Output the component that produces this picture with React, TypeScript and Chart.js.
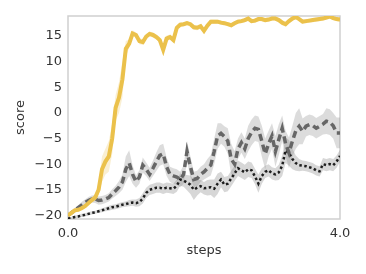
import React, { useEffect, useRef } from "react";
import { Chart, registerables } from "chart.js";

Chart.register(...registerables);

const steps = [
  0, 0.05, 0.1, 0.15, 0.2, 0.25, 0.3, 0.35, 0.4, 0.45,
  0.5, 0.55, 0.6, 0.65, 0.7, 0.75, 0.8, 0.85, 0.9, 0.95,
  1.0, 1.05, 1.1, 1.15, 1.2, 1.25, 1.3, 1.35, 1.4, 1.45,
  1.5, 1.55, 1.6, 1.65, 1.7, 1.75, 1.8, 1.85, 1.9, 1.95,
  2.0, 2.05, 2.1, 2.15, 2.2, 2.25, 2.3, 2.35, 2.4, 2.45,
  2.5, 2.55, 2.6, 2.65, 2.7, 2.75, 2.8, 2.85, 2.9, 2.95,
  3.0, 3.05, 3.1, 3.15, 3.2, 3.25, 3.3, 3.35, 3.4, 3.45,
  3.5, 3.55, 3.6, 3.65, 3.7, 3.75, 3.8, 3.85, 3.9, 3.95, 4.0,
];

const yellowMean = [
  -20, -19.5, -19.0, -18.9, -18.6, -18.2, -17.6, -17.0, -16.5, -15.0,
  -11.0, -9.5, -8.5, -5.0, 1.0, 3.0, 6.5, 12.5, 13.5, 15.5,
  15.2, 14.0, 13.8, 14.9, 15.4, 15.2, 14.8, 14.2, 12.3, 14.5,
  14.8, 14.2, 16.6, 17.2, 17.3, 17.5, 17.3, 16.7, 16.6, 16.9,
  16.0, 17.0, 17.8, 17.8, 17.8, 17.6, 17.5, 17.3, 17.1, 17.5,
  17.8, 17.9, 18.1, 18.4, 17.9, 18.0, 18.3, 18.3, 18.1, 18.2,
  18.4, 18.4, 18.1, 17.6, 17.3, 17.9, 18.4, 18.7, 18.3, 17.8,
  17.9, 18.0, 18.1, 18.2, 18.3, 18.4, 18.6, 18.8, 18.5, 18.3, 18.2,
];
const yellowSpread = [
  0.3, 0.3, 0.3, 0.3, 0.3, 0.4, 0.4, 0.5, 0.6, 1.0,
  2.5, 2.5, 3.0, 3.0, 2.5, 3.0, 3.5, 1.5, 0.8, 0.6,
  0.5, 0.6, 0.5, 0.5, 0.5, 0.5, 0.5, 0.6, 0.8, 0.6,
  0.5, 0.5, 0.5, 0.4, 0.4, 0.4, 0.4, 0.5, 0.5, 0.5,
  0.6, 0.5, 0.4, 0.4, 0.4, 0.4, 0.4, 0.4, 0.4, 0.4,
  0.4, 0.4, 0.4, 0.4, 0.4, 0.4, 0.4, 0.4, 0.4, 0.4,
  0.4, 0.4, 0.4, 0.5, 0.5, 0.4, 0.4, 0.4, 0.4, 0.4,
  0.4, 0.4, 0.4, 0.4, 0.4, 0.4, 0.4, 0.4, 0.4, 0.4, 0.4,
];

const dashedMean = [
  -20, -19.5, -19, -18.5, -18, -17.5, -17.1, -16.8, -16.8, -17.1,
  -17.0, -16.8, -16.5, -15.8, -15.2, -14.5, -13.5, -11.0, -9.8, -12.0,
  -13.4, -12.5, -10.2, -11.0, -12.0, -10.8, -9.5, -8.3, -8.0, -10.5,
  -12.0, -12.3, -12.5, -13.0, -12.0, -7.5, -10.5, -13.0, -12.8, -12.0,
  -11.5, -10.8, -10.2, -7.5, -4.5, -4.0, -4.6, -5.5, -9.0, -10.0,
  -7.0, -5.8, -7.0, -5.0, -3.8, -3.0, -3.2, -5.5, -8.0, -6.0,
  -4.5, -7.5, -5.2, -3.0, -6.0, -7.8, -5.5, -3.5, -2.6, -3.6,
  -2.6, -2.3, -2.5, -3.0, -2.6, -2.2, -1.6, -1.8, -2.5, -3.9, -3.9,
];
const dashedSpread = [
  0.3, 0.4, 0.5, 0.5, 0.6, 0.6, 0.7, 0.7, 0.8, 0.8,
  0.8, 0.8, 0.8, 0.9, 1.0, 1.2, 1.5, 2.5, 2.5, 1.8,
  1.2, 1.3, 1.5, 1.3, 1.3, 1.5, 1.8, 2.0, 2.0, 1.8,
  1.5, 1.5, 1.5, 1.5, 1.8, 2.0, 2.0, 1.5, 1.5, 1.5,
  1.5, 1.8, 2.0, 2.5, 2.5, 2.0, 2.0, 2.5, 3.0, 2.5,
  2.0, 2.0, 2.0, 2.5, 2.5, 2.5, 2.5, 3.0, 3.0, 2.5,
  2.5, 3.0, 3.0, 2.5, 2.5, 3.0, 3.0, 3.5, 3.5, 2.5,
  2.0, 2.0, 2.0, 2.0, 2.0, 2.0, 2.5, 2.5, 2.5, 3.0, 3.0,
];

const dottedMean = [
  -20.6, -20.5, -20.3, -20.2, -20.0, -19.9, -19.7, -19.5, -19.4, -19.2,
  -19.0, -18.8, -18.6, -18.4, -18.3, -18.1, -17.9, -17.8, -17.6, -17.5,
  -17.6, -17.4, -16.7, -15.6, -15.0, -14.8, -14.6, -14.6, -14.8, -14.6,
  -14.7, -14.8, -14.2, -13.0, -13.2, -13.6, -14.0, -15.0, -14.6, -14.3,
  -14.7, -14.6, -14.5, -14.8, -13.8, -13.0, -14.0, -13.8, -12.8, -11.8,
  -10.8, -11.2, -11.6, -11.0, -11.2, -12.4, -13.8, -12.3, -11.5, -11.2,
  -11.8, -12.0, -11.6, -10.3, -7.3, -7.8, -9.0, -9.8, -10.2, -10.3,
  -10.4, -10.6, -10.8, -11.2, -11.4, -10.0, -10.2, -10.0, -10.2, -9.5, -8.4,
];
const dottedSpread = [
  0.2, 0.2, 0.3, 0.3, 0.3, 0.3, 0.3, 0.3, 0.3, 0.3,
  0.4, 0.4, 0.5, 0.5, 0.5, 0.5, 0.5, 0.5, 0.6, 0.6,
  0.7, 0.8, 1.0, 1.0, 1.0, 1.0, 1.0, 1.0, 1.0, 1.0,
  1.0, 1.0, 1.2, 1.2, 1.2, 1.5, 1.8, 2.0, 1.5, 1.2,
  1.2, 1.5, 1.5, 1.8, 2.0, 1.5, 1.5, 1.5, 1.5, 1.5,
  1.5, 1.5, 1.5, 1.5, 1.5, 1.5, 1.8, 1.5, 1.2, 1.2,
  1.2, 1.2, 1.5, 2.0, 2.5, 2.5, 2.0, 1.5, 1.2, 1.0,
  1.0, 1.0, 1.0, 1.0, 1.0, 1.2, 1.2, 1.2, 1.2, 1.2, 1.2,
];

const xTicks = [0, 4];
const yTicks = [-20, -15, -10, -5, 0, 5, 10, 15];

const FONT = "'DejaVu Sans', sans-serif";
const TEXT = "#333333";

function pts(ys: number[]) {
  return ys.map((y, i) => ({ x: steps[i], y }));
}
function upper(m: number[], s: number[]) {
  return pts(m.map((v, i) => v + s[i]));
}
function lower(m: number[], s: number[]) {
  return pts(m.map((v, i) => v - s[i]));
}

const frame = {
  id: "frame",
  beforeDatasetsDraw(chart: any) {
    const { ctx, chartArea } = chart;
    ctx.save();
    ctx.strokeStyle = "#cfcfcf";
    ctx.lineWidth = 1.5;
    ctx.strokeRect(chartArea.left, chartArea.top, chartArea.right - chartArea.left, chartArea.bottom - chartArea.top);
    ctx.restore();
  },
};

export default function App() {
  const ref = useRef<HTMLCanvasElement>(null);
  useEffect(() => {
    if (!ref.current) return;
    const band = (data: any, color: string, fill: any, order: number) => ({
      data,
      borderWidth: 0,
      pointRadius: 0,
      backgroundColor: color,
      fill,
      tension: 0,
      order,
    });
    const chart = new Chart(ref.current, {
      type: "line",
      data: {
        datasets: [
          band(upper(yellowMean, yellowSpread), "rgba(236,193,75,0.25)", "+1", 5),
          band(lower(yellowMean, yellowSpread), "transparent", false, 5),
          band(upper(dashedMean, dashedSpread), "rgba(140,140,140,0.3)", "+1", 6),
          band(lower(dashedMean, dashedSpread), "transparent", false, 6),
          band(upper(dottedMean, dottedSpread), "rgba(140,140,140,0.35)", "+1", 7),
          band(lower(dottedMean, dottedSpread), "transparent", false, 7),
          {
            data: pts(dottedMean),
            borderColor: "#1e1e1e",
            borderWidth: 2.5,
            borderDash: [2.5, 2.5],
            borderCapStyle: "butt",
            pointRadius: 0,
            fill: false,
            tension: 0,
            order: 2,
          },
          {
            data: pts(dashedMean),
            borderColor: "#666666",
            borderWidth: 3.5,
            borderDash: [7, 4],
            borderCapStyle: "butt",
            pointRadius: 0,
            fill: false,
            tension: 0,
            order: 1,
          },
          {
            data: pts(yellowMean),
            borderColor: "#ebc14b",
            borderWidth: 4,
            pointRadius: 0,
            fill: false,
            tension: 0,
            order: 0,
          },
        ],
      } as any,
      options: {
        animation: false,
        responsive: false,
        maintainAspectRatio: false,
        layout: { padding: { top: 16, right: 26, left: 0, bottom: 0 } },
        plugins: { legend: { display: false }, tooltip: { enabled: false } },
        scales: {
          x: {
            type: "linear",
            min: 0,
            max: 4,
            grid: { display: false, drawTicks: false },
            border: { display: false },
            ticks: {
              color: TEXT,
              font: { family: FONT, size: 13 },
              padding: 7,
              maxRotation: 0,
              callback: (v: any) => Number(v).toFixed(1),
            },
            afterBuildTicks: (s: any) => {
              s.ticks = xTicks.map((v) => ({ value: v }));
            },
            afterFit: (s: any) => {
              s.height = 55;
            },
            title: {
              display: true,
              text: "steps",
              color: TEXT,
              font: { family: FONT, size: 13 },
              padding: { top: 0, bottom: 16 },
            },
          },
          y: {
            type: "linear",
            min: -20.7,
            max: 18.9,
            grid: { display: false, drawTicks: false },
            border: { display: false },
            ticks: {
              color: TEXT,
              font: { family: FONT, size: 13 },
              padding: 6,
              callback: (v: any) => (Number(v) < 0 ? "\u2212" + Math.abs(Number(v)) : String(v)),
            },
            afterBuildTicks: (s: any) => {
              s.ticks = yTicks.map((v) => ({ value: v }));
            },
            afterFit: (s: any) => {
              s.width = 68;
            },
            title: {
              display: true,
              text: "score",
              color: TEXT,
              font: { family: FONT, size: 13 },
              padding: { top: 13, bottom: 0 },
            },
          },
        },
      } as any,
      plugins: [frame],
    });
    return () => chart.destroy();
  }, []);
  return (
    <div style={{ position: "fixed", left: 0, top: 0, width: 366, height: 274, background: "#fff" }}>
      <canvas ref={ref} width={366} height={274} style={{ display: "block" }} />
    </div>
  );
}
